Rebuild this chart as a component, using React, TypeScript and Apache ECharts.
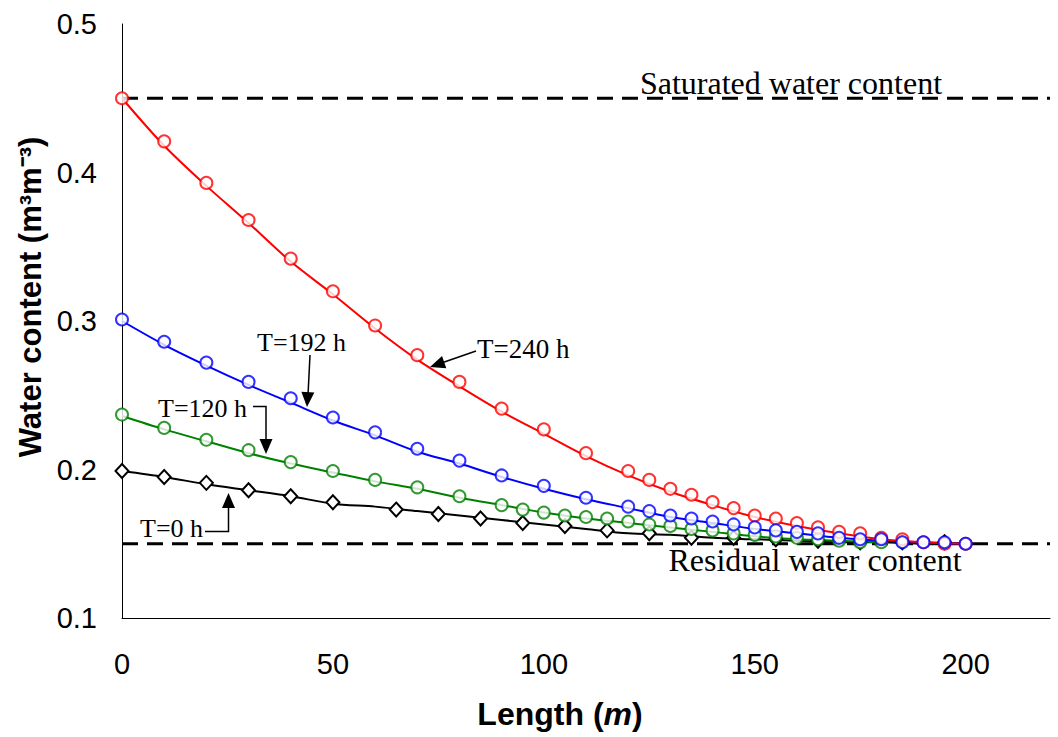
import React, { useEffect, useRef } from "react";
import * as echarts from "echarts";

// ---- Data ----
const xTicks = [0, 50, 100, 150, 200];
const yTicks = [0.1, 0.2, 0.3, 0.4, 0.5];

// Measured points (markers)
const redX = [0, 10, 20, 30, 40, 50, 60, 70, 80, 90, 100, 110, 120, 125, 130, 135, 140, 145, 150, 155, 160, 165, 170, 175, 180, 185, 190, 195, 200];
const redY = [0.450, 0.421, 0.393, 0.368, 0.342, 0.320, 0.297, 0.277, 0.259, 0.241, 0.227, 0.211, 0.199, 0.193, 0.187, 0.183, 0.178, 0.174, 0.169, 0.167, 0.164, 0.161, 0.158, 0.157, 0.154, 0.153, 0.151, 0.150, 0.150];

const blueX = [0, 10, 20, 30, 40, 50, 60, 70, 80, 90, 100, 110, 120, 125, 130, 135, 140, 145, 150, 155, 160, 165, 170, 175, 180, 185, 190, 195, 200];
const blueY = [0.301, 0.286, 0.272, 0.259, 0.248, 0.235, 0.225, 0.214, 0.206, 0.196, 0.189, 0.181, 0.175, 0.172, 0.169, 0.167, 0.165, 0.163, 0.161, 0.159, 0.158, 0.157, 0.154, 0.153, 0.153, 0.151, 0.151, 0.151, 0.150];

const greenX = [0, 10, 20, 30, 40, 50, 60, 70, 80, 90, 95, 100, 105, 110, 115, 120, 125, 130, 135, 140, 145, 150, 155, 160, 165, 170, 175, 180];
const greenY = [0.237, 0.228, 0.220, 0.213, 0.205, 0.199, 0.193, 0.188, 0.182, 0.176, 0.173, 0.171, 0.169, 0.168, 0.167, 0.165, 0.163, 0.162, 0.160, 0.159, 0.157, 0.156, 0.155, 0.154, 0.153, 0.152, 0.151, 0.151];

const blackX = [0, 10, 20, 30, 40, 50, 65, 75, 85, 95, 105, 115, 125, 135, 145, 155, 165, 175, 185, 195];
const blackY = [0.199, 0.195, 0.191, 0.186, 0.182, 0.178, 0.173, 0.170, 0.167, 0.164, 0.162, 0.159, 0.157, 0.154, 0.154, 0.153, 0.152, 0.151, 0.151, 0.151];

// Simulated curves (lines)
const lineX = [0, 10, 20, 30, 40, 50, 60, 70, 80, 90, 100, 110, 120, 130, 140, 150, 160, 170, 180, 190, 200];
const redLine = [0.450, 0.418, 0.391, 0.366, 0.340, 0.318, 0.295, 0.274, 0.256, 0.239, 0.224, 0.209, 0.196, 0.185, 0.176, 0.168, 0.162, 0.157, 0.153, 0.151, 0.150];
const blueLine = [0.300, 0.284, 0.270, 0.257, 0.245, 0.233, 0.223, 0.212, 0.204, 0.195, 0.187, 0.180, 0.174, 0.168, 0.164, 0.160, 0.157, 0.154, 0.152, 0.151, 0.150];
const greenLine = [0.236, 0.227, 0.219, 0.211, 0.204, 0.198, 0.192, 0.187, 0.181, 0.176, 0.171, 0.167, 0.164, 0.161, 0.158, 0.155, 0.153, 0.152, 0.151];
const blackLine = [0.199, 0.195, 0.190, 0.186, 0.182, 0.177, 0.175, 0.172, 0.169, 0.166, 0.163, 0.160, 0.157, 0.156, 0.154, 0.153, 0.152, 0.151, 0.151, 0.150, 0.150];

const saturated = 0.45;
const residual = 0.15;
const xMax = 220;

const pairs = (xs: number[], ys: number[]) => ys.map((y, i) => [xs[i], y]);

const SERIF = "'Liberation Serif', 'Times New Roman', serif";
const SANS = "'Liberation Sans', Arial, sans-serif";

function arrowHead(tipX: number, tipY: number, fromX: number, fromY: number, len = 15, half = 6.5) {
  const dx = tipX - fromX;
  const dy = tipY - fromY;
  const d = Math.sqrt(dx * dx + dy * dy);
  const ux = dx / d;
  const uy = dy / d;
  const bx = tipX - ux * len;
  const by = tipY - uy * len;
  return {
    type: "polygon",
    shape: { points: [[tipX, tipY], [bx - uy * half, by + ux * half], [bx + uy * half, by - ux * half]] },
    style: { fill: "#000" },
  };
}

export default function App() {
  const ref = useRef<HTMLDivElement>(null);
  useEffect(() => {
    if (!ref.current) return;
    const chart = echarts.init(ref.current, null, { renderer: "svg" });
    const lineStyle = (c: string) => ({ color: c, width: 2 });
    const option: any = {
      animation: false,
      backgroundColor: "#fff",
      grid: { left: 122, top: 24, right: 8, bottom: 119, containLabel: false },
      xAxis: {
        type: "value",
        min: 0,
        max: xMax,
        interval: 50,
        axisLine: { show: true, lineStyle: { color: "#000", width: 1 } },
        axisTick: { show: false },
        splitLine: { show: false },
        axisLabel: {
          margin: 31,
          fontSize: 29,
          fontFamily: SANS,
          color: "#000",
          showMaxLabel: false,
          formatter: (v: number) => (xTicks.includes(v) ? String(v) : ""),
        },
        name: "{b|Length (}{i|m}{b|)}",
        nameLocation: "middle",
        nameGap: 80,
        nameTextStyle: {
          padding: [0, 52, 0, 0],
          rich: {
            b: { fontSize: 32, fontWeight: "bold", fontFamily: SANS, color: "#000" },
            i: { fontSize: 32, fontWeight: "bold", fontStyle: "italic", fontFamily: SANS, color: "#000" },
          },
        },
      },
      yAxis: {
        type: "value",
        min: 0.1,
        max: 0.5,
        interval: 0.1,
        axisLine: { show: true, lineStyle: { color: "#000", width: 1 } },
        axisTick: { show: false },
        splitLine: { show: false },
        axisLabel: {
          margin: 25,
          fontSize: 29,
          fontFamily: SANS,
          color: "#000",
          formatter: (v: number) => {
            const s = v.toFixed(1);
            return yTicks.some((t) => t.toFixed(1) === s) ? s : "";
          },
        },
        name: "Water content (m³m⁻³)",
        nameLocation: "middle",
        nameRotate: 90,
        nameGap: 76,
        nameTextStyle: {
          fontSize: 31,
          fontWeight: "bold",
          fontFamily: SANS,
          color: "#000",
          padding: [0, 0, 0, 48],
        },
      },
      series: [
        {
          type: "line",
          data: [[0, saturated], [xMax, saturated]],
          symbol: "none",
          lineStyle: { color: "#000", width: 3, type: [16, 9] },
          z: 1,
        },
        {
          type: "line",
          data: [[0, residual], [xMax, residual]],
          symbol: "none",
          lineStyle: { color: "#000", width: 3, type: [16, 9] },
          z: 1,
        },
        { type: "line", data: pairs(lineX, blackLine), symbol: "none", smooth: 0.3, lineStyle: lineStyle("#000000"), z: 2 },
        { type: "line", data: pairs(lineX, greenLine), symbol: "none", smooth: 0.3, lineStyle: lineStyle("#008000"), z: 2 },
        { type: "line", data: pairs(lineX, blueLine), symbol: "none", smooth: 0.3, lineStyle: lineStyle("#0000FF"), z: 2 },
        { type: "line", data: pairs(lineX, redLine), symbol: "none", smooth: 0.3, lineStyle: lineStyle("#FF0000"), z: 2 },
        {
          type: "scatter",
          data: pairs(blackX, blackY),
          symbol: "diamond",
          symbolSize: [13, 14],
          itemStyle: { color: "#fff", borderColor: "#000", borderWidth: 2, opacity: 1 },
          z: 3,
        },
        {
          type: "scatter",
          data: pairs(greenX, greenY),
          symbol: "emptyCircle",
          symbolSize: 12,
          itemStyle: { color: "#008000", borderColor: "#008000", borderWidth: 2 },
          z: 3,
        },
        {
          type: "scatter",
          data: pairs(redX, redY),
          symbol: "emptyCircle",
          symbolSize: 12,
          itemStyle: { color: "#FF0000", borderColor: "#FF0000", borderWidth: 2 },
          z: 3,
        },
        {
          type: "scatter",
          data: pairs(blueX, blueY),
          symbol: "emptyCircle",
          symbolSize: 12,
          itemStyle: { color: "#0000FF", borderColor: "#0000FF", borderWidth: 2 },
          z: 3,
        },
      ],
      graphic: [
        {
          type: "text",
          x: 791,
          y: 83,
          style: { text: "Saturated water content", font: `32px ${SERIF}`, fill: "#000", align: "center", verticalAlign: "middle" },
          z: 10,
        },
        {
          type: "text",
          x: 815,
          y: 560,
          style: { text: "Residual water content", font: `32px ${SERIF}`, fill: "#000", align: "center", verticalAlign: "middle" },
          z: 10,
        },
        {
          type: "text",
          x: 477,
          y: 349,
          style: { text: "T=240 h", font: `27px ${SERIF}`, fill: "#000", align: "left", verticalAlign: "middle" },
          z: 10,
        },
        {
          type: "text",
          x: 257,
          y: 342,
          style: { text: "T=192 h", font: `26px ${SERIF}`, fill: "#000", align: "left", verticalAlign: "middle" },
          z: 10,
        },
        {
          type: "text",
          x: 158,
          y: 408,
          style: { text: "T=120 h", font: `26px ${SERIF}`, fill: "#000", align: "left", verticalAlign: "middle" },
          z: 10,
        },
        {
          type: "text",
          x: 140,
          y: 528,
          style: { text: "T=0 h", font: `26px ${SERIF}`, fill: "#000", align: "left", verticalAlign: "middle" },
          z: 10,
        },
        // T=240 h arrow
        { type: "line", shape: { x1: 476, y1: 351, x2: 440, y2: 363.5 }, style: { stroke: "#000", lineWidth: 1.5 }, z: 10 },
        { ...arrowHead(430, 367, 476, 351), z: 10 },
        // T=192 h arrow
        { type: "line", shape: { x1: 310, y1: 355, x2: 308, y2: 395 }, style: { stroke: "#000", lineWidth: 1.5 }, z: 10 },
        { ...arrowHead(307, 407, 310, 355), z: 10 },
        // T=120 h elbow arrow
        { type: "polyline", shape: { points: [[253, 406.5], [266, 406.5], [266, 442]] }, style: { stroke: "#000", lineWidth: 1.5, fill: "none" }, z: 10 },
        { ...arrowHead(266, 454, 266, 406.5), z: 10 },
        // T=0 h elbow arrow
        { type: "polyline", shape: { points: [[205, 531.5], [228.5, 531.5], [228.5, 505]] }, style: { stroke: "#000", lineWidth: 1.5, fill: "none" }, z: 10 },
        { ...arrowHead(228.5, 493, 228.5, 531.5), z: 10 },
      ],
    };
    chart.setOption(option);
    return () => chart.dispose();
  }, []);
  return (
    <div
      ref={ref}
      style={{ position: "absolute", left: 0, top: 0, width: 1058, height: 737 }}
    />
  );
}
